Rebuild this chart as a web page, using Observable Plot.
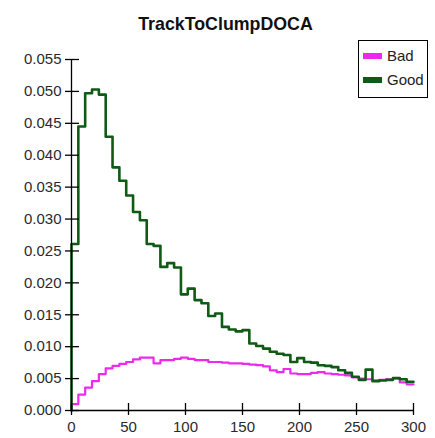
<!DOCTYPE html>
<html>
<head>
<meta charset="utf-8">
<script src="https://cdn.jsdelivr.net/npm/d3@7"></script>
<script src="https://cdn.jsdelivr.net/npm/@observablehq/plot@0.6"></script>
<style>
  html, body { margin: 0; padding: 0; background: white; }
  #wrap { position: relative; width: 435px; height: 438px; font-family: "Liberation Sans", Arial, sans-serif; }
  #legend { position: absolute; left: 358px; top: 40px; width: 68px; height: 56px; border: 1px solid #000; background: #fff; }
  .item { position: absolute; left: 4px; height: 18px; font-size: 15px; line-height: 18px; color: #222; }
  .sw { display: inline-block; width: 19px; height: 6px; vertical-align: middle; margin-right: 5px; position: relative; top: -1px; }
</style>
</head>
<body>
<div id="wrap"></div>
<script>
const title = "TrackToClumpDOCA";
const seriesNames = ["Bad", "Good"];
const seriesColors = ["#ee28ee", "#0f5a14"];
const binWidth = 6;
const xTicks = [0, 50, 100, 150, 200, 250, 300];
const yTicks = [0, 0.005, 0.010, 0.015, 0.020, 0.025, 0.030, 0.035, 0.040, 0.045, 0.050, 0.055];

const bad = [0.0010, 0.0025, 0.0036, 0.0046, 0.0057, 0.0066, 0.0070, 0.0073, 0.0076, 0.0080,
             0.0083, 0.0083, 0.0074, 0.0079, 0.0079, 0.0081, 0.0083, 0.0081, 0.0079, 0.0079,
             0.0076, 0.0076, 0.0075, 0.0074, 0.0074, 0.0073, 0.0072, 0.0071, 0.0069, 0.0063,
             0.0060, 0.0065, 0.0058, 0.0057, 0.0057, 0.0059, 0.0060, 0.0058, 0.0057, 0.0056,
             0.0055, 0.0052, 0.0050, 0.0049, 0.0047, 0.0048, 0.0049, 0.0050, 0.0044, 0.0041];

const good = [0.0261, 0.0445, 0.0497, 0.0503, 0.0495, 0.0429, 0.0381, 0.0360, 0.0337, 0.0311,
              0.0298, 0.0261, 0.0258, 0.0225, 0.0231, 0.0224, 0.0182, 0.0191, 0.0173, 0.0168,
              0.0148, 0.0152, 0.0131, 0.0127, 0.0124, 0.0126, 0.0105, 0.0101, 0.0097, 0.0092,
              0.0089, 0.0087, 0.0076, 0.0082, 0.0076, 0.0075, 0.0071, 0.0070, 0.0068, 0.0063,
              0.0059, 0.0053, 0.0048, 0.0064, 0.0046, 0.0047, 0.0048, 0.0051, 0.0049, 0.0045];

function stepPoints(values) {
  const pts = [{x: 0, y: 0}];
  values.forEach((v, i) => pts.push({x: i * binWidth, y: v}));
  pts.push({x: values.length * binWidth, y: values[values.length - 1]});
  return pts;
}

const fmt = d3.format(".3f");
const font = "Liberation Sans, Arial, sans-serif";

const chart = Plot.plot({
  width: 435,
  height: 438,
  marginLeft: 71,
  marginRight: 22,
  marginTop: 59,
  marginBottom: 28,
  x: {domain: [0, 300], axis: null},
  y: {domain: [0, 0.055], axis: null},
  style: {fontFamily: font, fontSize: "15px", color: "#222", background: "white"},
  marks: [
    Plot.line(stepPoints(bad), {x: "x", y: "y", curve: "step-after", stroke: seriesColors[0], strokeWidth: 2.2}),
    Plot.line(stepPoints(good), {x: "x", y: "y", curve: "step-after", stroke: seriesColors[1], strokeWidth: 2.6}),
    Plot.ruleY([0], {stroke: "#000", strokeWidth: 1.3}),
    Plot.ruleX([0], {stroke: "#000", strokeWidth: 1.3}),
    Plot.axisY({ticks: yTicks, tickSize: 14, dx: 8, tickFormat: () => "", label: null, stroke: "#000", strokeWidth: 1.3}),
    Plot.axisY({ticks: yTicks, tickSize: 0, tickPadding: 10, tickFormat: fmt, label: null, fontSize: 15, fill: "#2a2a2a"}),
    Plot.axisX({ticks: xTicks, tickSize: 12, dy: -7, tickFormat: () => "", label: null, stroke: "#000", strokeWidth: 1.3}),
    Plot.axisX({ticks: xTicks, tickSize: 0, tickPadding: 11, tickFormat: d => d, label: null, fontSize: 15, fill: "#2a2a2a"}),
    Plot.text([title], {frameAnchor: "top", dx: -17, dy: -42, fontSize: 17.8, fontWeight: "bold", fill: "#111"})
  ]
});

const wrap = document.getElementById("wrap");
wrap.appendChild(chart);

const legend = document.createElement("div");
legend.id = "legend";
seriesNames.forEach((name, i) => {
  const item = document.createElement("div");
  item.className = "item";
  item.style.top = (6 + i * 24) + "px";
  const sw = document.createElement("span");
  sw.className = "sw";
  sw.style.background = seriesColors[i];
  item.appendChild(sw);
  item.appendChild(document.createTextNode(name));
  legend.appendChild(item);
});
wrap.appendChild(legend);
</script>
</body>
</html>
